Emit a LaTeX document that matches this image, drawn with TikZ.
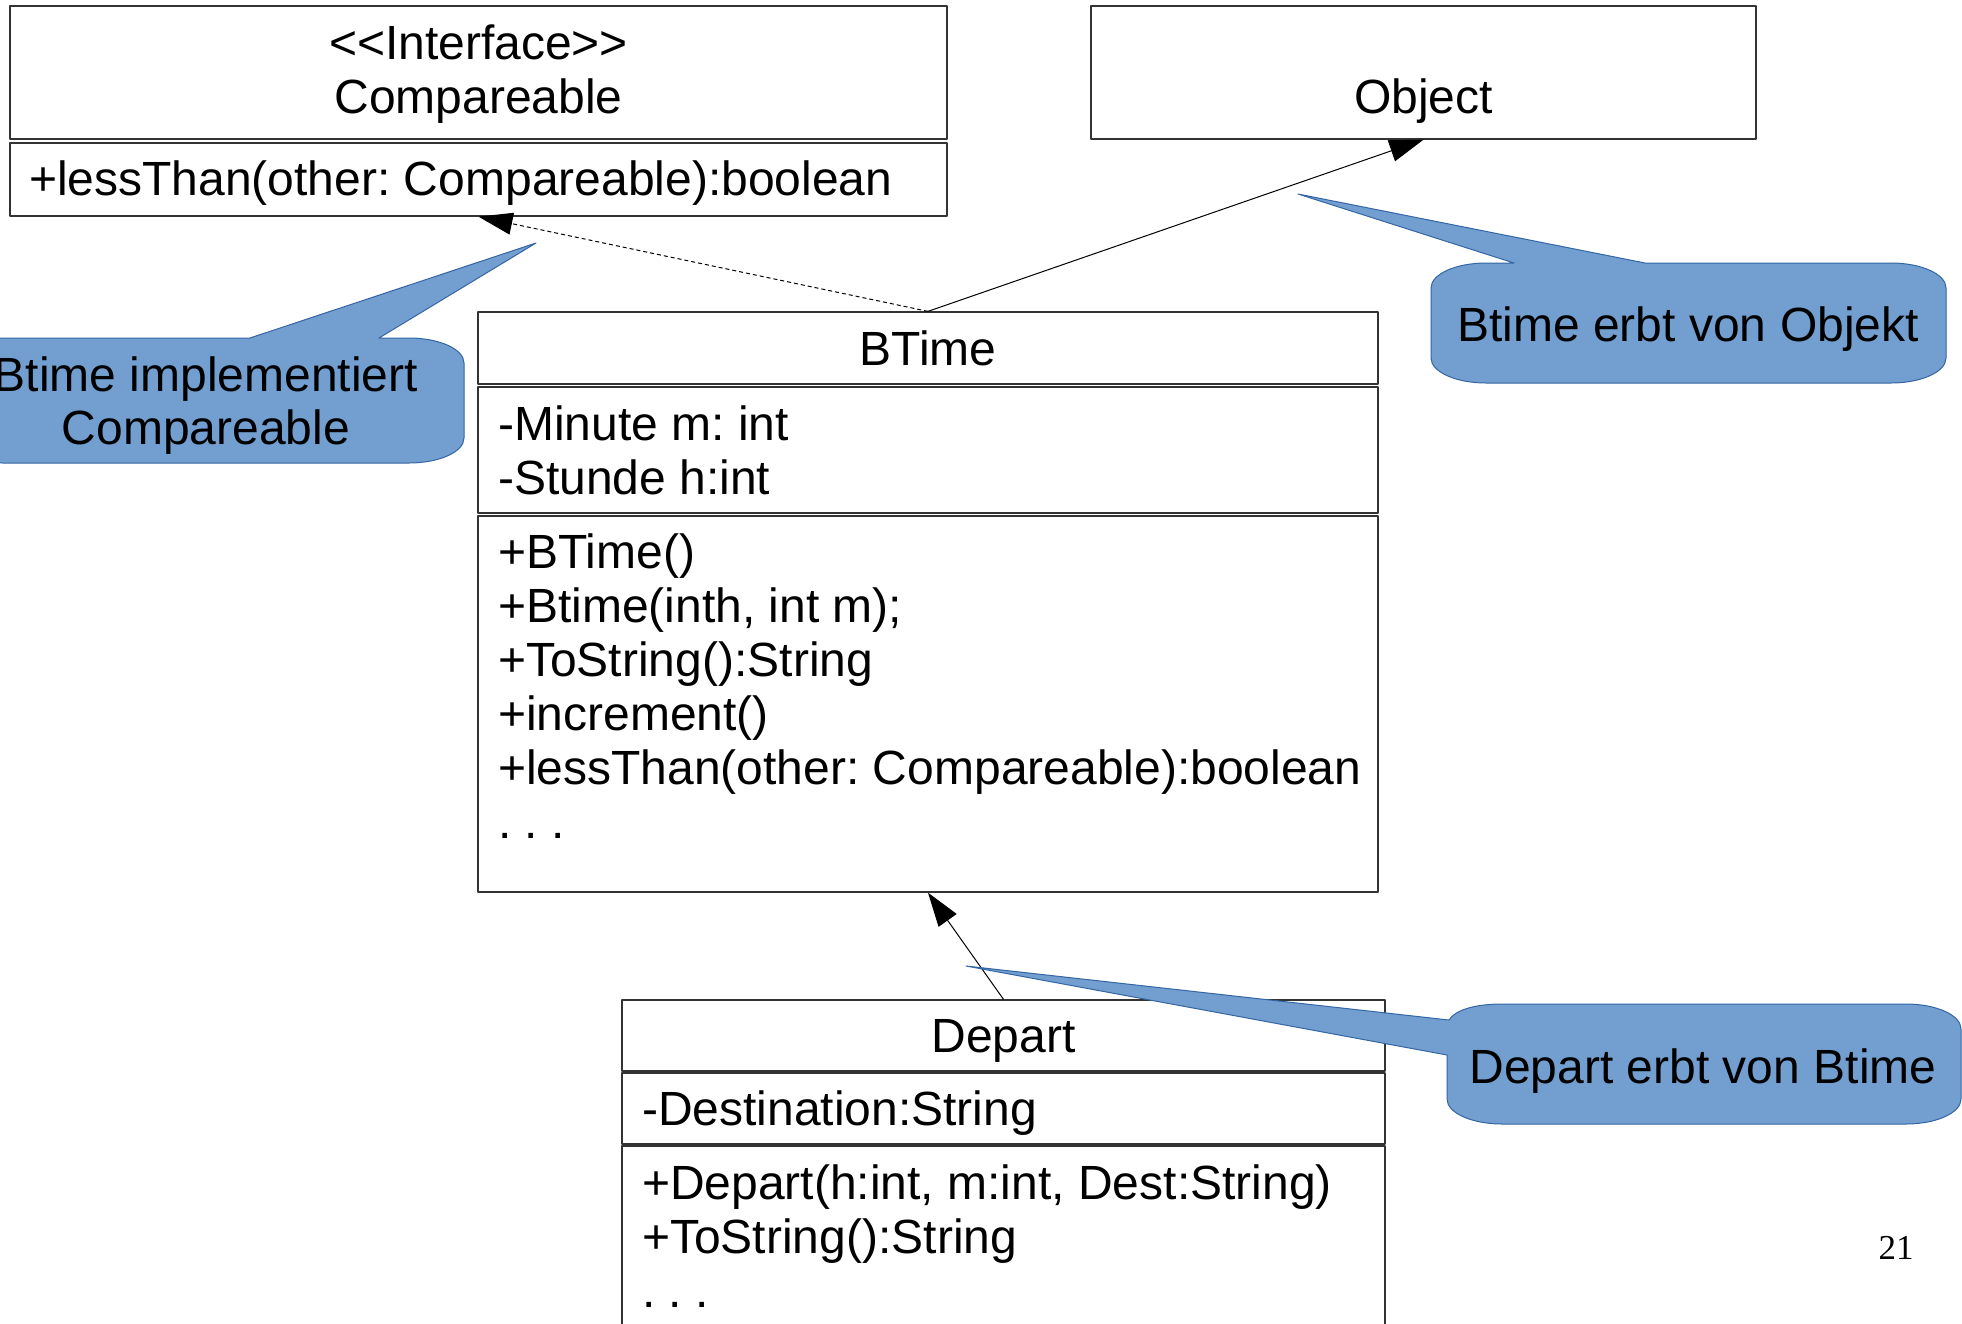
\documentclass[tikz,border=0pt]{standalone}
\usepackage{fontspec}
\setmainfont{Liberation Sans}
\newfontfamily\pagefont{Liberation Serif}
\usetikzlibrary{arrows.meta}
\definecolor{noteblue}{HTML}{729FCF}
\definecolor{noteline}{HTML}{3465A4}
\frenchspacing
\tikzset{
	cls/.style 2 args={draw=black!80, line width=1.3pt, inner sep=0pt,
		minimum width=#1pt, minimum height=#2pt},
	txt/.style={inner sep=0pt, anchor=base west},
	ttl/.style={inner sep=0pt, anchor=base},
	inh/.style={-{Triangle[length=34pt, width=22pt]}, line width=1pt},
	dep/.style={inh, dash pattern=on 4pt off 3pt},
	callout/.style={fill=noteblue, draw=noteline, line width=1pt}
}
\begin{document}
\begin{tikzpicture}[x=1pt, y=-1pt, font=\fontsize{48}{54}\selectfont, line join=round]
	\useasboundingbox (0,0) rectangle (1962,1323);
	% classes
	\node[cls={937}{133}] (ifhead) at (478.5,72.5) {};
	\node[cls={937}{73}] (ifops) at (478.5,179.5) {};
	\node[cls={665}{133}] (object) at (1423.5,72.5) {};
	\node[cls={900}{72}] (bthead) at (928,348) {};
	\node[cls={900}{126}] (btattr) at (928,450) {};
	\node[cls={900}{376}] (btops) at (928,704) {};
	\node[cls={763}{71}] (dphead) at (1003.5,1035.5) {};
	\node[cls={763}{71}] (dpattr) at (1003.5,1108.5) {};
	\node[cls={763}{254}] (dpops) at (1003.5,1273) {};
	% texts
	\node[ttl] (ifstereo) at (478.5,59) {<{}<Interface>{}>};
	\node[ttl] (ifname) at (478.5,113) {Compareable};
	\node[txt] (iflt) at (29,195) {+lessThan(other: Compareable):boolean};
	\node[ttl] (objname) at (1423.5,113) {Object};
	\node[ttl] (btname) at (928,365) {BTime};
	\foreach \t [count=\i] in {-Minute m: int, -Stunde h:int}
		\node[txt] (bta\i) at (498,440+54*\i-54) {\t};
	\foreach \t [count=\i] in {+BTime(), {+Btime(inth, int m);}, +ToString():String,
		+increment(), +lessThan(other: Compareable):boolean, . . .}
		\node[txt] (bto\i) at (498,568+54*\i-54) {\t};
	\node[ttl] (dpname) at (1003.5,1052) {Depart};
	\node[txt] (dpa1) at (642,1125) {-Destination:String};
	\foreach \t [count=\i] in {{+Depart(h:int, m:int, Dest:String)}, +ToString():String, . . .}
		\node[txt] (dpo\i) at (642,1199+54*\i-54) {\t};
	% relations
	\draw[dep] (bthead.north) -- (ifops.south);
	\draw[inh] (bthead.north) -- (object.south);
	\draw[inh] (dphead.north) -- (btops.south);
	% callouts
	\draw[callout] (250,338) -- (536,243) -- (379,338) -- (409,338)
		.. controls (439,338) and (464,349) .. (464,363) -- (464,438)
		.. controls (464,452) and (439,463) .. (409,463) -- (3,463)
		.. controls (-27,463) and (-52,452) .. (-52,438) -- (-52,363)
		.. controls (-52,349) and (-27,338) .. (3,338) -- cycle;
	\draw[callout] (1514,263) -- (1298,194) -- (1645,263) -- (1891,263)
		.. controls (1921,263) and (1946,274) .. (1946,288) -- (1946,358)
		.. controls (1946,372) and (1921,383) .. (1891,383) -- (1486,383)
		.. controls (1456,383) and (1431,372) .. (1431,358) -- (1431,288)
		.. controls (1431,274) and (1456,263) .. (1486,263) -- cycle;
	\draw[callout] (1502,1004) -- (1906,1004)
		.. controls (1936,1004) and (1961,1015) .. (1961,1029) -- (1961,1099)
		.. controls (1961,1113) and (1936,1124) .. (1906,1124) -- (1502,1124)
		.. controls (1472,1124) and (1447,1113) .. (1447,1099) -- (1447,1055)
		-- (966,966) -- (1449,1020)
		.. controls (1455,1010) and (1475,1004) .. cycle;
	\node[ttl] (note1a) at (206,391) {Btime implementiert};
	\node[ttl] (note1b) at (206,444) {Compareable};
	\node[ttl] (note2) at (1688,341) {Btime erbt von Objekt};
	\node[ttl] (note3) at (1703,1083) {Depart erbt von Btime};
	\node[ttl, font=\pagefont\fontsize{35}{40}\selectfont] (pagenum) at (1896,1259) {21};
\end{tikzpicture}
\end{document}
